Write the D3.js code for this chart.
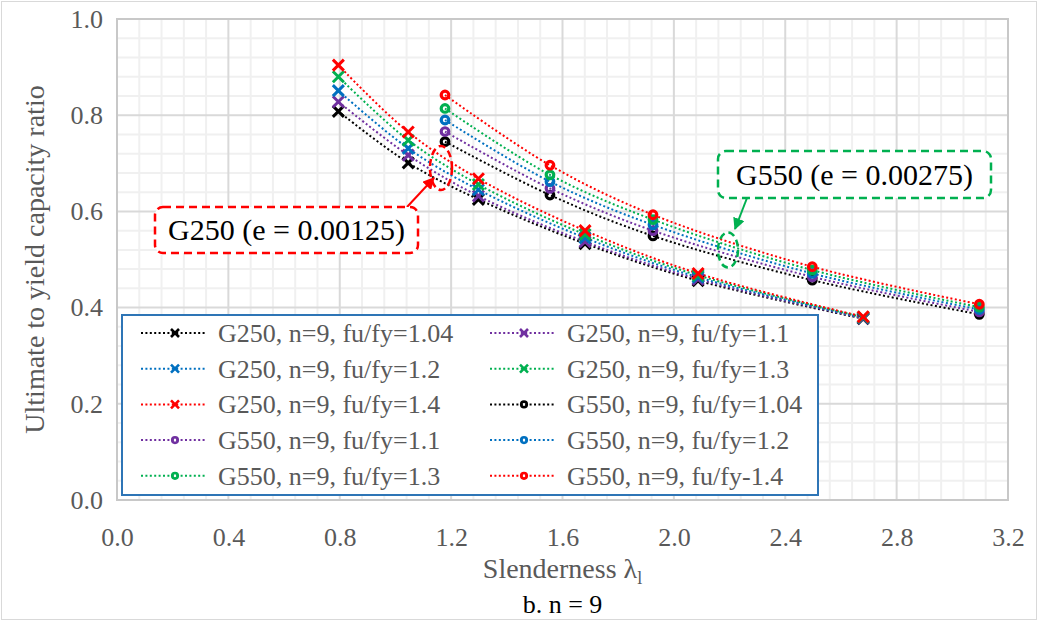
<!DOCTYPE html>
<html>
<head>
<meta charset="utf-8">
<script src="https://cdn.jsdelivr.net/npm/d3@7"></script>
<style>
  body { margin: 0; background: #fff; }
  svg { display: block; }
</style>
</head>
<body>
<div id="chart"></div>
<script>
// slenderness values for each grade
const g250X = [0.795, 1.046, 1.298, 1.681, 2.087, 2.680]
const g550X = [1.178, 1.555, 1.925, 2.497, 3.097]

// ultimate to yield capacity ratio, one array per fu/fy
const g250_104 = [0.808, 0.701, 0.625, 0.533, 0.456, 0.377]
const g250_11 = [0.828, 0.717, 0.632, 0.537, 0.459, 0.378]
const g250_12 = [0.851, 0.731, 0.645, 0.545, 0.463, 0.379]
const g250_13 = [0.880, 0.748, 0.656, 0.552, 0.467, 0.380]
const g250_14 = [0.904, 0.765, 0.668, 0.560, 0.471, 0.381]

const g550_104 = [0.745, 0.634, 0.549, 0.457, 0.386]
const g550_11 = [0.766, 0.648, 0.560, 0.464, 0.391]
const g550_12 = [0.790, 0.662, 0.572, 0.471, 0.396]
const g550_13 = [0.814, 0.676, 0.583, 0.478, 0.401]
const g550_14 = [0.842, 0.696, 0.593, 0.485, 0.407]

const seriesNames = [
  'G250, n=9, fu/fy=1.04', 'G250, n=9, fu/fy=1.1', 'G250, n=9, fu/fy=1.2',
  'G250, n=9, fu/fy=1.3', 'G250, n=9, fu/fy=1.4', 'G550, n=9, fu/fy=1.04',
  'G550, n=9, fu/fy=1.1', 'G550, n=9, fu/fy=1.2', 'G550, n=9, fu/fy=1.3',
  'G550, n=9, fu/fy-1.4'
]
const xTicks = [0, 0.4, 0.8, 1.2, 1.6, 2.0, 2.4, 2.8, 3.2]
const yTicks = [0, 0.2, 0.4, 0.6, 0.8, 1.0]

const colors = ['#000000', '#7030A0', '#0070C0', '#00B050', '#FF0000']

const fontStyle = "font-family: 'Liberation Serif', 'DejaVu Serif', serif"

let series = []
let g250Vals = [g250_104, g250_11, g250_12, g250_13, g250_14]
let g550Vals = [g550_104, g550_11, g550_12, g550_13, g550_14]
g250Vals.forEach(function (v, i) {
  series.push({ name: seriesNames[i], marker: 'x', color: colors[i],
    points: v.map(function (d, j) { return { x: g250X[j], y: d } }) })
})
g550Vals.forEach(function (v, i) {
  series.push({ name: seriesNames[5 + i], marker: 'o', color: colors[i],
    points: v.map(function (d, j) { return { x: g550X[j], y: d } }) })
})

const width = 1038
const height = 621
let svg = d3.select('#chart').append('svg')
  .attr('width', width)
  .attr('height', height)

svg.append('rect')
  .attr('x', 1.5).attr('y', 1.5)
  .attr('width', width - 3).attr('height', height - 3)
  .attr('fill', '#fff').attr('stroke', '#d9d9d9')

let x = d3.scaleLinear().domain([0, 3.2]).range([117, 1008])
let y = d3.scaleLinear().domain([0, 1]).range([500, 19])

// minor grid
let grid = svg.append('g')
grid.selectAll('.mx').data(d3.range(1, 40).filter(function (i) { return i % 5 !== 0 }))
  .enter().append('line')
  .attr('x1', function (i) { return x(i * 0.08) }).attr('x2', function (i) { return x(i * 0.08) })
  .attr('y1', y(0)).attr('y2', y(1))
  .attr('stroke', '#f0f0f0').attr('stroke-width', 2)
grid.selectAll('.my').data(d3.range(1, 25).filter(function (i) { return i % 5 !== 0 }))
  .enter().append('line')
  .attr('y1', function (i) { return y(i * 0.04) }).attr('y2', function (i) { return y(i * 0.04) })
  .attr('x1', x(0)).attr('x2', x(3.2))
  .attr('stroke', '#f0f0f0').attr('stroke-width', 2)
// major grid
grid.selectAll('.gx').data(xTicks).enter().append('line')
  .attr('x1', function (d) { return x(d) }).attr('x2', function (d) { return x(d) })
  .attr('y1', y(0)).attr('y2', y(1))
  .attr('stroke', '#d9d9d9').attr('stroke-width', 2)
grid.selectAll('.gy').data(yTicks).enter().append('line')
  .attr('y1', function (d) { return y(d) }).attr('y2', function (d) { return y(d) })
  .attr('x1', x(0)).attr('x2', x(3.2))
  .attr('stroke', '#d9d9d9').attr('stroke-width', 2)
svg.append('rect')
  .attr('x', x(0)).attr('y', y(1))
  .attr('width', x(3.2) - x(0)).attr('height', y(0) - y(1))
  .attr('fill', 'none').attr('stroke', '#c8c8c8').attr('stroke-width', 2)

// axes
svg.append('g')
  .attr('transform', 'translate(0,' + y(0) + ')')
  .call(d3.axisBottom(x).tickValues(xTicks).tickSize(0).tickPadding(28)
    .tickFormat(d3.format('.1f')))
svg.append('g')
  .attr('transform', 'translate(' + (x(0) - 14) + ',0)')
  .call(d3.axisLeft(y).tickValues(yTicks).tickSize(0).tickPadding(0)
    .tickFormat(d3.format('.1f')))
svg.selectAll('.domain').remove()
svg.selectAll('.tick text')
  .attr('style', fontStyle)
  .attr('font-size', 26)
  .attr('fill', '#595959')

svg.append('text')
  .attr('style', fontStyle)
  .attr('transform', 'translate(44,' + ((y(0) + y(1)) / 2) + ') rotate(-90)')
  .attr('text-anchor', 'middle')
  .attr('font-size', 28)
  .attr('fill', '#595959')
  .text('Ultimate to yield capacity ratio')

let xt = svg.append('text')
  .attr('style', fontStyle)
  .attr('x', (x(0) + x(3.2)) / 2)
  .attr('y', 578)
  .attr('text-anchor', 'middle')
  .attr('font-size', 28)
  .attr('fill', '#595959')
xt.append('tspan').text('Slenderness λ')
xt.append('tspan').attr('font-size', 18).attr('dy', 6).text('l')

svg.append('text')
  .attr('style', fontStyle)
  .attr('x', (x(0) + x(3.2)) / 2)
  .attr('y', 613)
  .attr('text-anchor', 'middle')
  .attr('font-size', 26)
  .attr('fill', '#000')
  .text('b. n = 9')

// series
let line = d3.line()
  .x(function (d) { return x(d.x) })
  .y(function (d) { return y(d.y) })
  .curve(d3.curveCatmullRom)

function drawMarker (g, type, color, big) {
  if (type === 'x') {
    let s = big ? 5.5 : 4
    g.append('path')
      .attr('d', 'M' + (-s) + ',' + (-s) + 'L' + s + ',' + s + 'M' + (-s) + ',' + s + 'L' + s + ',' + (-s))
      .attr('stroke', color).attr('stroke-width', big ? 3 : 2.6).attr('fill', 'none')
  } else {
    g.append('circle')
      .attr('r', big ? 3.8 : 2.8)
      .attr('fill', 'none')
      .attr('stroke', color).attr('stroke-width', big ? 3.2 : 2.6)
  }
}

let plot = svg.append('g')
series.forEach(function (s) {
  plot.append('path')
    .datum(s.points)
    .attr('d', line)
    .attr('fill', 'none')
    .attr('stroke', s.color)
    .attr('stroke-width', 2)
    .attr('stroke-dasharray', '2,2.4')
})
series.forEach(function (s) {
  s.points.forEach(function (p) {
    let g = plot.append('g').attr('transform', 'translate(' + x(p.x) + ',' + y(p.y) + ')')
    drawMarker(g, s.marker, s.color, true)
  })
})

// annotations
let defs = svg.append('defs')
function arrowHead (id, color) {
  defs.append('marker')
    .attr('id', id)
    .attr('viewBox', '0 0 10 10')
    .attr('refX', 9).attr('refY', 5)
    .attr('markerWidth', 6).attr('markerHeight', 6)
    .attr('markerUnits', 'strokeWidth')
    .attr('orient', 'auto')
    .append('path').attr('d', 'M0,0L10,5L0,10Z').attr('fill', color)
}
arrowHead('arRed', '#FF0000')
arrowHead('arGreen', '#00B050')

function callout (bx, by, bw, bh, label, color, ex, ey, erx, ery, a, markerId) {
  let g = svg.append('g')
  g.append('ellipse')
    .attr('cx', ex).attr('cy', ey).attr('rx', erx).attr('ry', ery)
    .attr('fill', 'none').attr('stroke', color).attr('stroke-width', 2.5)
    .attr('stroke-dasharray', '7,4')
  g.append('line')
    .attr('x1', a[0]).attr('y1', a[1]).attr('x2', a[2]).attr('y2', a[3])
    .attr('stroke', color).attr('stroke-width', 2)
    .attr('marker-end', 'url(#' + markerId + ')')
  g.append('rect')
    .attr('x', bx).attr('y', by).attr('width', bw).attr('height', bh)
    .attr('rx', 8)
    .attr('fill', '#fff').attr('stroke', color).attr('stroke-width', 2.5)
    .attr('stroke-dasharray', '8,5')
  g.append('text')
    .attr('style', fontStyle)
    .attr('x', bx + bw / 2).attr('y', by + bh / 2 + 10)
    .attr('text-anchor', 'middle')
    .attr('font-size', 30)
    .attr('fill', '#000')
    .text(label)
}
callout(155, 207, 263, 46, 'G250 (e = 0.00125)', '#FF0000', 441, 168, 11, 22, [407, 207, 434, 178], 'arRed')
callout(718, 151, 273, 47, 'G550 (e = 0.00275)', '#00B050', 728, 250, 10, 17.5, [747, 198, 735, 229], 'arGreen')

// legend
let leg = svg.append('g')
leg.append('rect')
  .attr('x', 122).attr('y', 315)
  .attr('width', 696).attr('height', 180)
  .attr('fill', '#fff').attr('stroke', '#2E75B6').attr('stroke-width', 2)
series.forEach(function (s, i) {
  let col = i % 2
  let row = Math.floor(i / 2)
  let lx = col === 0 ? 141 : 490
  let ly = 333 + row * 35.7
  let item = leg.append('g').attr('transform', 'translate(' + lx + ',' + ly + ')')
  item.append('line')
    .attr('x1', 0).attr('x2', 66).attr('y1', 0).attr('y2', 0)
    .attr('stroke', s.color).attr('stroke-width', 2)
    .attr('stroke-dasharray', '2,2.4')
  let m = item.append('g').attr('transform', 'translate(34,0)')
  drawMarker(m, s.marker, s.color, false)
  item.append('text')
    .attr('style', fontStyle)
    .attr('x', 77).attr('y', 9)
    .attr('font-size', 26)
    .attr('fill', '#595959')
    .text(s.name)
})
</script>
</body>
</html>
